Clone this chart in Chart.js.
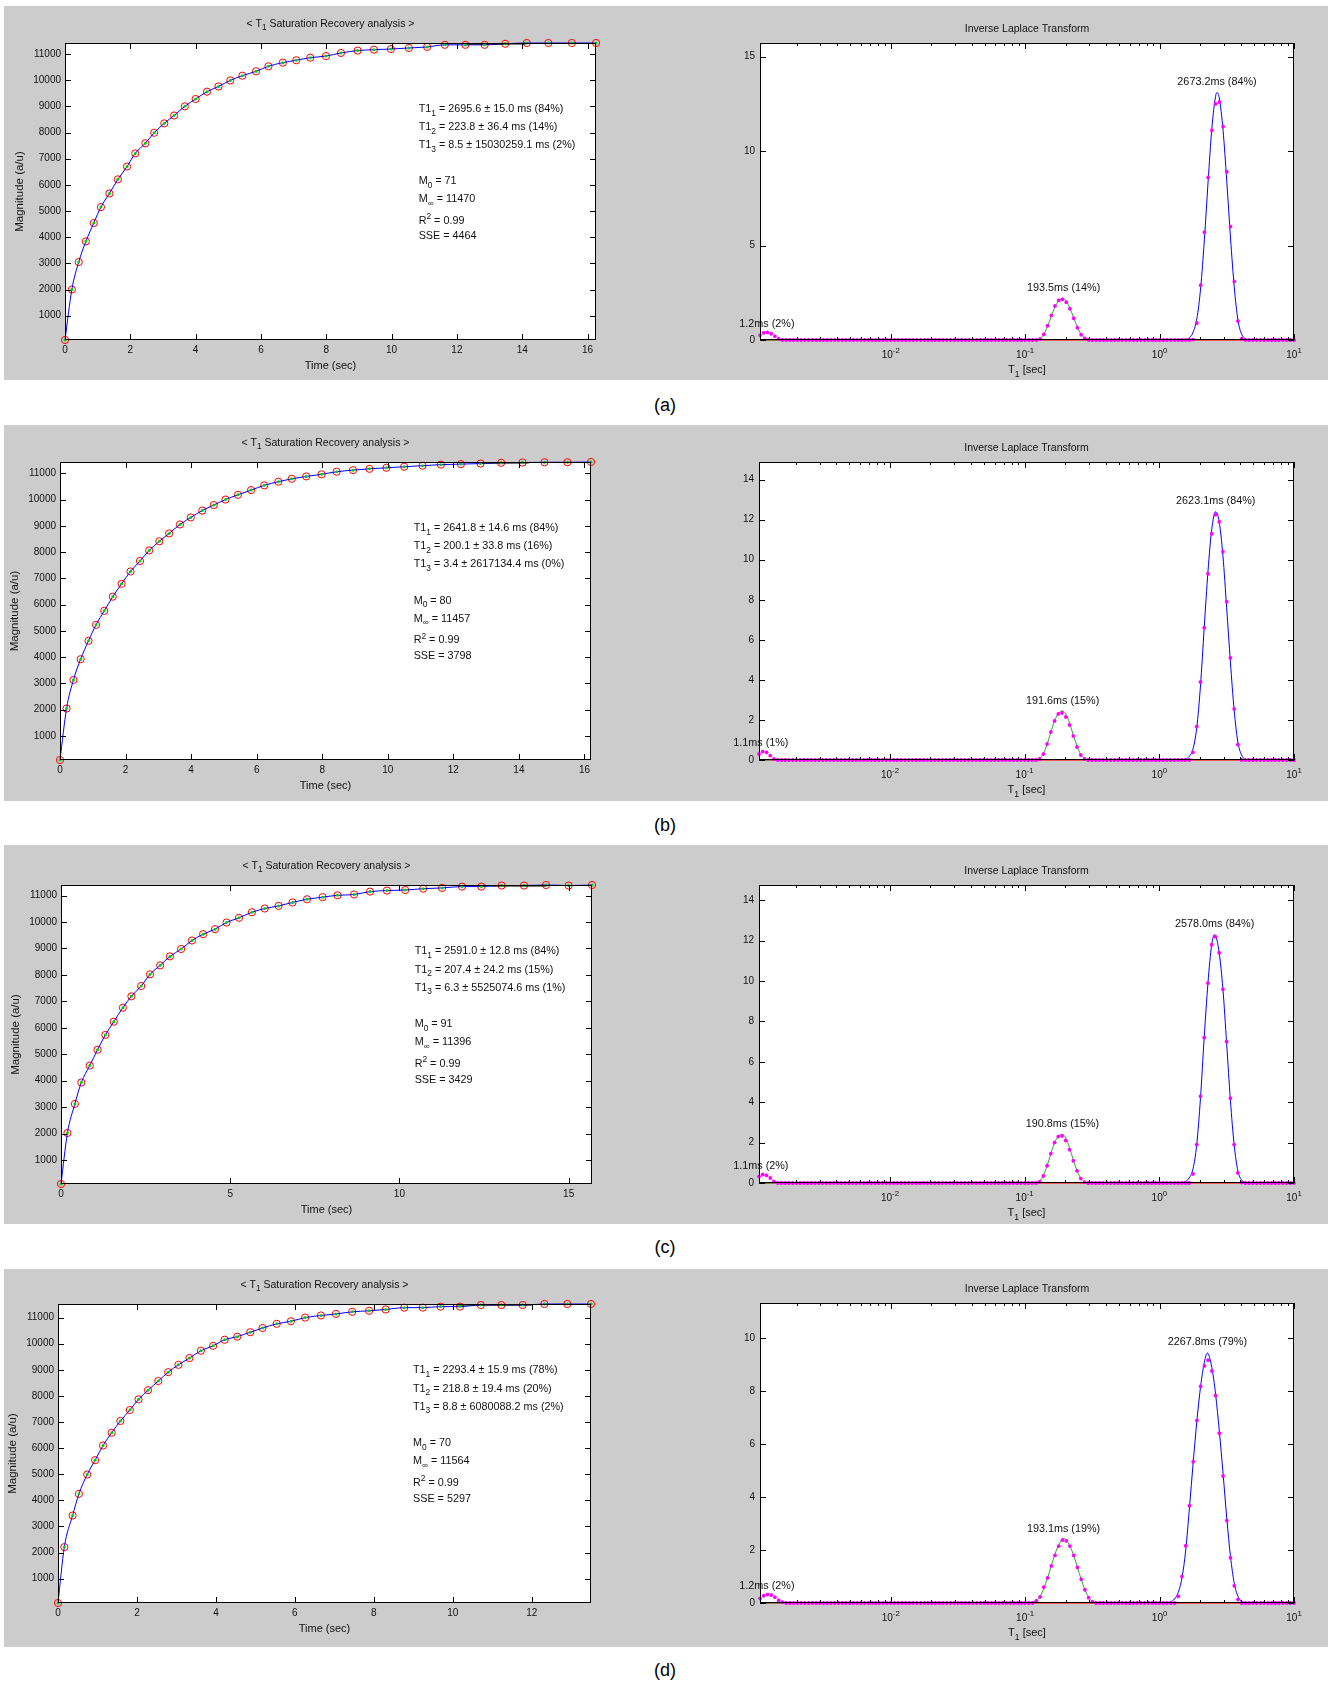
<!DOCTYPE html>
<html>
<head>
<meta charset="utf-8">
<script src="https://cdn.jsdelivr.net/npm/chart.js@4.4.1/dist/chart.umd.min.js"></script>
<style>
  body { margin: 0; width: 1330px; height: 1685px; position: relative; overflow: hidden; background: #fff;
         font-family: "Liberation Sans", Arial, Helvetica, sans-serif; }
  .panel { position: absolute; left: 4px; width: 1324px; background: #cccccc; }
  .tag { position: absolute; left: 0; width: 1330px; height: 22px; line-height: 22px; text-align: center; font-size: 18px; color: #000; }
  canvas { position: absolute; }
</style>
</head>
<body>
<script>
// ---------- saturation recovery data (left column) ----------
const timeA = [0, 0.21, 0.42, 0.64, 0.88, 1.10, 1.36, 1.62, 1.90, 2.15,
  2.46, 2.73, 3.04, 3.34, 3.67, 4.00, 4.35, 4.70, 5.06, 5.43,
  5.85, 6.23, 6.67, 7.08, 7.51, 7.99, 8.45, 8.96, 9.46, 9.98,
  10.53, 11.09, 11.63, 12.26, 12.85, 13.48, 14.14, 14.80, 15.52, 16.26];
const magA = [71, 2000, 3050, 3840, 4540, 5150, 5670, 6210, 6700, 7200,
  7590, 7990, 8350, 8650, 9000, 9280, 9560, 9760, 9990, 10170,
  10340, 10530, 10670, 10760, 10860, 10920, 11040, 11130, 11165, 11190,
  11230, 11270, 11350, 11350, 11350, 11390, 11420, 11420, 11420, 11420];
const timeB = [0, 0.20, 0.41, 0.63, 0.87, 1.10, 1.35, 1.61, 1.88, 2.15,
  2.44, 2.72, 3.03, 3.33, 3.66, 3.99, 4.34, 4.69, 5.05, 5.43,
  5.83, 6.23, 6.66, 7.07, 7.51, 7.98, 8.44, 8.94, 9.44, 9.96,
  10.50, 11.06, 11.62, 12.23, 12.83, 13.46, 14.11, 14.78, 15.48, 16.20];
const magB = [80, 2040, 3130, 3920, 4620, 5230, 5760, 6300, 6790, 7260,
  7660, 8060, 8410, 8710, 9050, 9320, 9580, 9790, 10000, 10180,
  10360, 10540, 10680, 10790, 10880, 10960, 11060, 11120, 11170, 11210,
  11250, 11290, 11330, 11350, 11370, 11400, 11410, 11420, 11420, 11430];
const timeC = [0, 0.19, 0.41, 0.60, 0.85, 1.08, 1.31, 1.56, 1.83, 2.08,
  2.37, 2.63, 2.93, 3.22, 3.55, 3.87, 4.20, 4.55, 4.89, 5.26,
  5.64, 6.02, 6.43, 6.84, 7.27, 7.73, 8.17, 8.66, 9.13, 9.63,
  10.17, 10.70, 11.26, 11.85, 12.42, 13.02, 13.68, 14.33, 15.00, 15.69];
const magC = [91, 2020, 3120, 3930, 4570, 5170, 5730, 6230, 6760, 7190,
  7580, 8020, 8360, 8700, 8980, 9300, 9540, 9730, 9980, 10160,
  10370, 10510, 10610, 10740, 10860, 10940, 11010, 11040, 11150, 11190,
  11210, 11260, 11290, 11340, 11340, 11380, 11380, 11400, 11380, 11400];
const timeD = [0, 0.16, 0.37, 0.53, 0.74, 0.94, 1.14, 1.36, 1.58, 1.82,
  2.04, 2.28, 2.54, 2.79, 3.05, 3.33, 3.62, 3.93, 4.22, 4.54,
  4.87, 5.18, 5.54, 5.90, 6.26, 6.66, 7.04, 7.45, 7.88, 8.30,
  8.77, 9.24, 9.69, 10.18, 10.71, 11.23, 11.77, 12.32, 12.90, 13.50];
const magD = [70, 2210, 3420, 4250, 4990, 5540, 6100, 6590, 7040, 7460,
  7870, 8220, 8570, 8910, 9190, 9450, 9730, 9920, 10150, 10270,
  10440, 10600, 10760, 10860, 11000, 11080, 11140, 11220, 11260, 11310,
  11380, 11380, 11420, 11420, 11480, 11480, 11480, 11520, 11520, 11520];

// dark segment along the top of each recovery plot
const topSegX = [[12.3, 14.1], [12.8, 14.3], [12.7, 14.35], [10.1, 12.0]];
const topSegY = [[11390, 11390], [11400, 11400], [11375, 11375], [11495, 11495]];

const timeTicksA = [0, 2, 4, 6, 8, 10, 12, 14, 16];
const timeTicksC = [0, 5, 10, 15];
const timeTicksD = [0, 2, 4, 6, 8, 10, 12];
const magTicks = [1000, 2000, 3000, 4000, 5000, 6000, 7000, 8000, 9000, 10000, 11000];

const t1Fits = [
  ['2695.6 ± 15.0 ms (84%)', '223.8 ± 36.4 ms (14%)', '8.5 ± 15030259.1 ms (2%)'],
  ['2641.8 ± 14.6 ms (84%)', '200.1 ± 33.8 ms (16%)', '3.4 ± 2617134.4 ms (0%)'],
  ['2591.0 ± 12.8 ms (84%)', '207.4 ± 24.2 ms (15%)', '6.3 ± 5525074.6 ms (1%)'],
  ['2293.4 ± 15.9 ms (78%)', '218.8 ± 19.4 ms (20%)', '8.8 ± 6080088.2 ms (2%)']
];
const m0Vals = [71, 80, 91, 70];
const mInfVals = [11470, 11457, 11396, 11564];
const r2Vals = ['0.99', '0.99', '0.99', '0.99'];
const sseVals = [4464, 3798, 3429, 5297];

// ---------- inverse Laplace transform data (right column) ----------
const t1Grid = [
  1.066e-3,1.136e-3,1.212e-3,1.292e-3,1.377e-3,1.468e-3,1.565e-3,1.668e-3,1.778e-3,1.896e-3,2.021e-3,2.154e-3,
  2.297e-3,2.448e-3,2.610e-3,2.783e-3,2.966e-3,3.162e-3,3.371e-3,3.594e-3,3.831e-3,4.084e-3,4.354e-3,4.642e-3,
  4.948e-3,5.275e-3,5.623e-3,5.995e-3,6.391e-3,6.813e-3,7.263e-3,7.743e-3,8.254e-3,8.799e-3,9.380e-3,
  1.000e-2,1.066e-2,1.136e-2,1.212e-2,1.292e-2,1.377e-2,1.468e-2,1.565e-2,1.668e-2,1.778e-2,1.896e-2,2.021e-2,
  2.154e-2,2.297e-2,2.448e-2,2.610e-2,2.783e-2,2.966e-2,3.162e-2,3.371e-2,3.594e-2,3.831e-2,4.084e-2,4.354e-2,
  4.642e-2,4.948e-2,5.275e-2,5.623e-2,5.995e-2,6.391e-2,6.813e-2,7.263e-2,7.743e-2,8.254e-2,8.799e-2,9.380e-2,
  0.1000,0.1066,0.1136,0.1212,0.1292,0.1377,0.1468,0.1565,0.1668,0.1778,0.1896,0.2021,
  0.2154,0.2297,0.2448,0.2610,0.2783,0.2966,0.3162,0.3371,0.3594,0.3831,0.4084,0.4354,
  0.4642,0.4948,0.5275,0.5623,0.5995,0.6391,0.6813,0.7263,0.7743,0.8254,0.8799,0.9380,
  1.000,1.066,1.136,1.212,1.292,1.377,1.468,1.565,1.668,1.778,1.896,2.021,
  2.154,2.297,2.448,2.610,2.783,2.966,3.162,3.371,3.594,3.831,4.084,4.354,
  4.642,4.948,5.275,5.623,5.995,6.391,6.813,7.263,7.743,8.254,8.799,9.380,
  10.00
];
const iltA = [
  0.25,0.38,0.40,0.33,0.20,0.06, 0,0,0,0,0,0, 0,0,0,0,0,0, 0,0,0,0,0,0, 0,0,0,0,0,0, 0,0,0,0,0,
  0,0,0,0,0,0, 0,0,0,0,0,0, 0,0,0,0,0,0, 0,0,0,0,0,0, 0,0,0,0,0,0, 0,0,0,0,0,0,
  0,0,0,0,0.05,0.30, 0.75,1.30,1.80,2.10,2.15,2.00, 1.65,1.15,0.65,0.28,0.08,0, 0,0,0,0,0,0, 0,0,0,0,0,0, 0,0,0,0,0,0,
  0,0,0,0,0,0, 0,0,0,0.02,0.90,2.90, 5.70,8.60,11.1,12.5,12.6,11.3, 8.90,6.00,3.10,1.00,0.05,0, 0,0,0,0,0,0, 0,0,0,0,0,0,
  0
];
const iltB = [
  0.30,0.42,0.38,0.22,0.05,0, 0,0,0,0,0,0, 0,0,0,0,0,0, 0,0,0,0,0,0, 0,0,0,0,0,0, 0,0,0,0,0,
  0,0,0,0,0,0, 0,0,0,0,0,0, 0,0,0,0,0,0, 0,0,0,0,0,0, 0,0,0,0,0,0, 0,0,0,0,0,0,
  0,0,0,0,0.05,0.30, 0.80,1.40,1.95,2.30,2.35,2.15, 1.75,1.20,0.65,0.25,0.05,0, 0,0,0,0,0,0, 0,0,0,0,0,0, 0,0,0,0,0,0,
  0,0,0,0,0,0, 0,0,0,0.38,1.67,3.90, 6.60,9.30,11.3,12.25,11.9,10.4, 7.90,5.10,2.55,0.77,0,0, 0,0,0,0,0,0, 0,0,0,0,0,0,
  0
];
const iltC = [
  0.32,0.42,0.38,0.25,0.08,0, 0,0,0,0,0,0, 0,0,0,0,0,0, 0,0,0,0,0,0, 0,0,0,0,0,0, 0,0,0,0,0,
  0,0,0,0,0,0, 0,0,0,0,0,0, 0,0,0,0,0,0, 0,0,0,0,0,0, 0,0,0,0,0,0, 0,0,0,0,0,0,
  0,0,0,0,0.06,0.35, 0.85,1.45,2.00,2.30,2.33,2.10, 1.65,1.10,0.60,0.22,0.04,0, 0,0,0,0,0,0, 0,0,0,0,0,0, 0,0,0,0,0,0,
  0,0,0,0,0,0, 0,0,0,0.45,1.90,4.30, 7.20,9.90,11.8,12.2,11.4,9.60, 7.00,4.20,1.90,0.50,0.02,0, 0,0,0,0,0,0, 0,0,0,0,0,0,
  0
];
const iltD = [
  0.17,0.27,0.32,0.30,0.22,0.10, 0.03,0,0,0,0,0, 0,0,0,0,0,0, 0,0,0,0,0,0, 0,0,0,0,0,0, 0,0,0,0,0,
  0,0,0,0,0,0, 0,0,0,0,0,0, 0,0,0,0,0,0, 0,0,0,0,0,0, 0,0,0,0,0,0, 0,0,0,0,0,0,
  0,0,0,0.08,0.23,0.60, 0.95,1.40,1.80,2.15,2.38,2.35, 2.15,1.80,1.35,0.90,0.50,0.20, 0.05,0,0,0,0,0, 0,0,0,0,0,0, 0,0,0,0,0,0,
  0,0,0,0,0,0.25, 1.00,2.16,3.68,5.34,6.90,8.19, 8.96,9.18,8.77,7.84,6.42,4.80, 3.12,1.71,0.65,0.13,0,0, 0,0,0,0,0,0, 0,0,0,0,0,0,
  0
];

// fitted component curves
const greenXA = [1.066e-3, 1.8e-3, 0.01, 0.05, 0.1, 0.1212, 0.1292, 0.1377, 0.1468, 0.1565, 0.1668, 0.1778, 0.1935, 0.2021, 0.2154, 0.2297, 0.2448, 0.2610, 0.2783, 0.2967, 0.3162, 1.2];
const greenYA = [0, 0, null, 0, 0, 0.02, 0.08, 0.30, 0.72, 1.25, 1.75, 2.08, 2.20, 2.05, 1.68, 1.18, 0.68, 0.30, 0.10, 0.03, 0, 0];
const greenXB = [1.066e-3, 1.8e-3, 0.01, 0.05, 0.1, 0.1212, 0.1292, 0.1377, 0.1468, 0.1565, 0.1668, 0.1778, 0.1916, 0.2021, 0.2154, 0.2297, 0.2448, 0.2610, 0.2783, 0.2967, 0.3162, 1.2];
const greenYB = [0, 0, null, 0, 0, 0.02, 0.08, 0.32, 0.78, 1.38, 1.95, 2.32, 2.45, 2.30, 1.85, 1.25, 0.70, 0.28, 0.08, 0.02, 0, 0];
const greenXC = [1.066e-3, 1.8e-3, 0.01, 0.05, 0.1, 0.1212, 0.1292, 0.1377, 0.1468, 0.1565, 0.1668, 0.1778, 0.1908, 0.2021, 0.2154, 0.2297, 0.2448, 0.2610, 0.2783, 0.2967, 0.3162, 1.2];
const greenYC = [0, 0, null, 0, 0, 0.03, 0.10, 0.36, 0.85, 1.45, 2.00, 2.32, 2.40, 2.22, 1.75, 1.15, 0.62, 0.24, 0.06, 0.01, 0, 0];
const greenXD = [1.066e-3, 1.8e-3, 0.01, 0.035, 0.09, 0.11, 0.1212, 0.1292, 0.1377, 0.1468, 0.1565, 0.1668, 0.1778, 0.1931, 0.2021, 0.2154, 0.2297, 0.2448, 0.2610, 0.2783, 0.2967, 0.3162, 0.34, 1.1];
const greenYD = [0, 0, null, 0, 0, 0.03, 0.10, 0.25, 0.55, 0.95, 1.40, 1.85, 2.20, 2.45, 2.38, 2.15, 1.80, 1.35, 0.90, 0.50, 0.22, 0.07, 0.01, 0];

const blueXA = [1.2, 1.5, 1.668, 1.778, 1.896, 2.021, 2.154, 2.297, 2.448, 2.610, 2.673, 2.783, 2.967, 3.162, 3.371, 3.594, 3.831, 4.084, 4.354, 4.8, 5.2];
const blueYA = [0, 0, 0.12, 0.42, 1.15, 2.75, 5.30, 8.40, 11.2, 12.9, 13.1, 12.8, 11.1, 8.40, 5.40, 2.80, 1.05, 0.30, 0.07, 0, 0];
const blueXB = [1.2, 1.4, 1.565, 1.668, 1.778, 1.896, 2.021, 2.154, 2.297, 2.448, 2.623, 2.783, 2.967, 3.162, 3.371, 3.594, 3.831, 4.084, 4.5, 5.2];
const blueYB = [0, 0, 0.05, 0.18, 0.55, 1.60, 3.70, 6.60, 9.40, 11.5, 12.4, 11.9, 10.2, 7.60, 4.90, 2.50, 0.90, 0.25, 0, 0];
const blueXC = [1.2, 1.4, 1.565, 1.668, 1.778, 1.896, 2.021, 2.154, 2.297, 2.448, 2.578, 2.783, 2.967, 3.162, 3.371, 3.594, 3.831, 4.084, 4.5, 5.2];
const blueYC = [0, 0, 0.08, 0.25, 0.70, 1.90, 4.20, 7.20, 9.90, 11.8, 12.3, 11.4, 9.60, 6.90, 4.10, 1.90, 0.60, 0.15, 0, 0];
const blueXD = [1.0, 1.1, 1.212, 1.292, 1.377, 1.468, 1.565, 1.668, 1.778, 1.896, 2.021, 2.154, 2.268, 2.448, 2.610, 2.783, 2.967, 3.162, 3.371, 3.594, 3.831, 4.2, 4.8, 5.2];
const blueYD = [0, 0, 0.05, 0.15, 0.40, 0.95, 2.00, 3.60, 5.30, 6.90, 8.20, 9.10, 9.45, 8.90, 7.90, 6.50, 4.90, 3.20, 1.75, 0.75, 0.25, 0.03, 0, 0];

const zeroLineX = [1.066e-3, 10];
const zeroLineY = [0, 0];

// peak annotations: position (T1 in s, height) and text
const peakXA = [2.6732, 0.1935, 0.0012], peakYA = [13.1, 2.2, 0.30];
const peakTextA = ['2673.2ms (84%)', '193.5ms (14%)', '1.2ms (2%)'];
const peakXB = [2.6231, 0.1916, 0.0011], peakYB = [12.4, 2.42, 0.33];
const peakTextB = ['2623.1ms (84%)', '191.6ms (15%)', '1.1ms (1%)'];
const peakXC = [2.578, 0.1908, 0.0011], peakYC = [12.3, 2.4, 0.33];
const peakTextC = ['2578.0ms (84%)', '190.8ms (15%)', '1.1ms (2%)'];
const peakXD = [2.2678, 0.1931, 0.0012], peakYD = [9.45, 2.4, 0.23];
const peakTextD = ['2267.8ms (79%)', '193.1ms (19%)', '1.2ms (2%)'];

const iltYMax = [15.72, 14.88, 14.76, 11.34];
const iltTicksA = [0, 5, 10, 15];
const iltTicksB = [0, 2, 4, 6, 8, 10, 12, 14];
const iltTicksD = [0, 2, 4, 6, 8, 10];
const logTicks = [0.01, 0.1, 1, 10];
const logTickExp = ['-2', '-1', '0', '1'];
const panelTags = ['(a)', '(b)', '(c)', '(d)'];

// ---------- page layout (page pixel coordinates) ----------
const layout = [
  { panel: [6, 380], tagY: 405, left: [65, 596, 43, 340], right: [760, 1294, 43, 340] },
  { panel: [425, 801], tagY: 825, left: [60, 591, 462, 760], right: [759, 1294, 462, 760] },
  { panel: [845, 1224], tagY: 1247, left: [61, 592, 885, 1184], right: [759, 1294, 885, 1183] },
  { panel: [1269, 1647], tagY: 1670, left: [58, 591, 1304, 1603], right: [760, 1294, 1303, 1603] }
];

const FONT = '"Liberation Sans", Arial, Helvetica, sans-serif';
Chart.defaults.font.family = FONT;
const NOTE_SIZE = 10.8;

function toPts(xs, ys) { return xs.map((x, i) => ({ x: x, y: ys[i] })); }

// text made of [string, 0 normal | 1 subscript | 2 superscript] parts
function richText(ctx, parts, x, y, size, align) {
  let total = 0;
  const widths = parts.map(p => {
    ctx.font = (p[1] ? size * 0.78 : size) + 'px ' + FONT;
    const w = ctx.measureText(p[0]).width;
    total += w;
    return w;
  });
  let cx = align === 'center' ? x - total / 2 : (align === 'right' ? x - total : x);
  ctx.textAlign = 'left';
  ctx.textBaseline = 'middle';
  parts.forEach((p, i) => {
    ctx.font = (p[1] ? size * 0.78 : size) + 'px ' + FONT;
    const dy = p[1] === 1 ? size * 0.4 : (p[1] === 2 ? -size * 0.4 : 0);
    ctx.fillText(p[0], cx, y + dy);
    cx += widths[i];
  });
}

const decor = {};

// MATLAB-like box axes: white area, frame, inward ticks, labels and texts
const matlabAxes = {
  id: 'matlabAxes',
  beforeDraw(chart) {
    const a = chart.chartArea, ctx = chart.ctx;
    ctx.save();
    ctx.fillStyle = '#ffffff';
    ctx.fillRect(a.left, a.top, a.right - a.left, a.bottom - a.top);
    ctx.restore();
  },
  afterDraw(chart) {
    const d = decor[chart.canvas.id];
    if (!d) return;
    const ctx = chart.ctx, a = chart.chartArea;
    const xs = chart.scales.x, ys = chart.scales.y;
    const w = a.right - a.left, h = a.bottom - a.top, cx = (a.left + a.right) / 2;
    ctx.save();
    ctx.strokeStyle = '#000';
    ctx.fillStyle = '#111';
    ctx.lineWidth = 1;
    ctx.beginPath();
    const tickX = (v, len) => {
      const p = Math.round(xs.getPixelForValue(v)) + 0.5;
      ctx.moveTo(p, a.bottom); ctx.lineTo(p, a.bottom - len);
      ctx.moveTo(p, a.top); ctx.lineTo(p, a.top + len);
    };
    const tickY = (v, len) => {
      const p = Math.round(ys.getPixelForValue(v)) + 0.5;
      ctx.moveTo(a.left, p); ctx.lineTo(a.left + len, p);
      ctx.moveTo(a.right, p); ctx.lineTo(a.right - len, p);
    };
    d.xTicks.forEach(v => tickX(v, 6));
    if (d.log) {
      for (let e = -3; e <= 0; e++) {
        for (let m = 2; m <= 9; m++) {
          const v = m * Math.pow(10, e);
          if (v > xs.min && v < xs.max) tickX(v, 3);
        }
      }
    }
    d.yTicks.forEach(v => tickY(v, 6));
    ctx.stroke();
    ctx.strokeRect(a.left + 0.5, a.top + 0.5, w - 1, h - 1);

    // tick labels
    ctx.font = '10px ' + FONT;
    ctx.textBaseline = 'middle';
    if (d.log) {
      d.xTicks.forEach((v, i) => richText(ctx, [['10', 0], [d.xExp[i], 2]], xs.getPixelForValue(v), a.bottom + 15, 10, 'center'));
    } else {
      ctx.textAlign = 'center';
      d.xTicks.forEach(v => ctx.fillText(String(v), xs.getPixelForValue(v), a.bottom + 10));
    }
    ctx.font = '10px ' + FONT;
    ctx.textAlign = 'right';
    ctx.textBaseline = 'middle';
    d.yTicks.forEach(v => ctx.fillText(String(v), a.left - (d.log ? 5 : 4), ys.getPixelForValue(v)));

    // title and axis labels
    richText(ctx, d.title, cx, a.top - d.titleGap, 10.5, 'center');
    richText(ctx, d.xLabel, cx, a.bottom + d.xLabelGap, 11, 'center');
    if (d.yLabel) {
      ctx.save();
      ctx.translate(a.left - 45, (a.top + a.bottom) / 2);
      ctx.rotate(-Math.PI / 2);
      richText(ctx, [[d.yLabel, 0]], 0, 0, 11.5, 'center');
      ctx.restore();
    }

    // fit results text block (axes-normalised placement)
    if (d.notes) {
      d.notes.forEach(n => richText(ctx, n.parts, a.left + 0.666 * w, a.top + n.fy * h, NOTE_SIZE, 'left'));
    }
    // peak labels
    if (d.peaks) {
      d.peaks.text.forEach((t, i) => {
        richText(ctx, [[t, 0]], xs.getPixelForValue(d.peaks.x[i]), ys.getPixelForValue(d.peaks.y[i]) - 10.5, NOTE_SIZE, 'center');
      });
    }
    ctx.restore();
  }
};
Chart.register(matlabAxes);

function addCanvas(id, x, y, w, h) {
  const c = document.createElement('canvas');
  c.id = id;
  c.width = w; c.height = h;
  c.style.left = x + 'px'; c.style.top = y + 'px';
  c.style.width = w + 'px'; c.style.height = h + 'px';
  document.body.appendChild(c);
  return c;
}

function padFor(box, x, y, w, h) {
  return { left: box[0] - x, right: x + w - box[1], top: box[2] - y, bottom: y + h - box[3] };
}

function baseOptions(padding, xScale, yScale) {
  return {
    responsive: false,
    animation: false,
    devicePixelRatio: 1,
    events: [],
    layout: { padding: padding },
    plugins: { legend: { display: false }, tooltip: { enabled: false } },
    scales: { x: xScale, y: yScale }
  };
}

const recovery = [
  { t: timeA, m: magA, ticks: timeTicksA },
  { t: timeB, m: magB, ticks: timeTicksA },
  { t: timeC, m: magC, ticks: timeTicksC },
  { t: timeD, m: magD, ticks: timeTicksD }
];
const ilt = [
  { y: iltA, gx: greenXA, gy: greenYA, bx: blueXA, by: blueYA, px: peakXA, py: peakYA, pt: peakTextA, ticks: iltTicksA },
  { y: iltB, gx: greenXB, gy: greenYB, bx: blueXB, by: blueYB, px: peakXB, py: peakYB, pt: peakTextB, ticks: iltTicksB },
  { y: iltC, gx: greenXC, gy: greenYC, bx: blueXC, by: blueYC, px: peakXC, py: peakYC, pt: peakTextC, ticks: iltTicksB },
  { y: iltD, gx: greenXD, gy: greenYD, bx: blueXD, by: blueYD, px: peakXD, py: peakYD, pt: peakTextD, ticks: iltTicksD }
];
const noteRows = [0.222, 0.283, 0.344, 0.465, 0.526, 0.599, 0.651];

layout.forEach((L, r) => {
  const top = L.panel[0], ph = L.panel[1] - L.panel[0];
  const panel = document.createElement('div');
  panel.className = 'panel';
  panel.style.top = top + 'px';
  panel.style.height = ph + 'px';
  document.body.appendChild(panel);

  const tag = document.createElement('div');
  tag.className = 'tag';
  tag.style.top = (L.tagY - 11) + 'px';
  tag.textContent = panelTags[r];
  document.body.appendChild(tag);

  // ---- left: saturation recovery ----
  const rec = recovery[r];
  const lc = addCanvas('rec' + r, 4, top, 661, ph);
  const recPts = toPts(rec.t, rec.m);
  const fits = t1Fits[r];
  decor[lc.id] = {
    log: false,
    xTicks: rec.ticks,
    yTicks: magTicks,
    title: [['< T', 0], ['1', 1], [' Saturation Recovery analysis >', 0]],
    titleGap: 19,
    xLabel: [['Time (sec)', 0]],
    xLabelGap: 26,
    yLabel: 'Magnitude (a/u)',
    notes: [
      { parts: [['T1', 0], ['1', 1], [' = ' + fits[0], 0]], fy: noteRows[0] },
      { parts: [['T1', 0], ['2', 1], [' = ' + fits[1], 0]], fy: noteRows[1] },
      { parts: [['T1', 0], ['3', 1], [' = ' + fits[2], 0]], fy: noteRows[2] },
      { parts: [['M', 0], ['0', 1], [' = ' + m0Vals[r], 0]], fy: noteRows[3] },
      { parts: [['M', 0], ['\u221e', 1], [' = ' + mInfVals[r], 0]], fy: noteRows[4] },
      { parts: [['R', 0], ['2', 2], [' = ' + r2Vals[r], 0]], fy: noteRows[5] },
      { parts: [['SSE = ' + sseVals[r], 0]], fy: noteRows[6] }
    ]
  };
  new Chart(lc, {
    type: 'scatter',
    data: {
      datasets: [
        { data: recPts, showLine: true, borderColor: '#0000ff', borderWidth: 1, pointRadius: 0,
          cubicInterpolationMode: 'monotone', clip: false, order: 3 },
        { data: toPts(topSegX[r], topSegY[r]), showLine: true, borderColor: '#000000', borderWidth: 1.5,
          pointRadius: 0, clip: false, order: 2 },
        { data: recPts, pointStyle: 'circle', pointRadius: 3.6, borderColor: '#ff0000', borderWidth: 1,
          backgroundColor: 'rgba(0,0,0,0)', clip: false, order: 4 },
        { data: recPts, pointStyle: 'circle', pointRadius: 1.5, borderWidth: 0, backgroundColor: '#00d000',
          clip: false, order: 1 }
      ]
    },
    options: baseOptions(padFor(L.left, 4, top, 661, ph),
      { type: 'linear', display: false, min: 0, max: rec.t[rec.t.length - 1] },
      { type: 'linear', display: false, min: Math.min(...rec.m), max: Math.max(...rec.m) })
  });

  // ---- right: inverse Laplace transform ----
  const d = ilt[r];
  const rc = addCanvas('ilt' + r, 665, top, 663, ph);
  decor[rc.id] = {
    log: true,
    xTicks: logTicks,
    xExp: logTickExp,
    yTicks: d.ticks,
    title: [['Inverse Laplace Transform', 0]],
    titleGap: 13.5,
    xLabel: [['T', 0], ['1', 1], [' [sec]', 0]],
    xLabelGap: 30,
    peaks: { x: d.px, y: d.py, text: d.pt }
  };
  new Chart(rc, {
    type: 'scatter',
    data: {
      datasets: [
        { data: toPts(t1Grid, d.y), pointStyle: 'star', pointRadius: 1.9, borderWidth: 1.1,
          borderColor: '#ff00ff', backgroundColor: '#ff00ff', clip: false, order: 1 },
        { data: toPts(d.bx, d.by), showLine: true, borderColor: '#0000ff', borderWidth: 1, pointRadius: 0,
          cubicInterpolationMode: 'monotone', clip: false, order: 2 },
        { data: toPts(d.gx, d.gy), showLine: true, borderColor: '#3a9a3a', borderWidth: 1, pointRadius: 0,
          cubicInterpolationMode: 'monotone', spanGaps: false, clip: false, order: 3 },
        { data: toPts(zeroLineX, zeroLineY), showLine: true, borderColor: '#ff3333', borderWidth: 1.6,
          pointRadius: 0, clip: false, order: 4 }
      ]
    },
    options: baseOptions(padFor(L.right, 665, top, 663, ph),
      { type: 'logarithmic', display: false, min: t1Grid[0], max: t1Grid[t1Grid.length - 1] },
      { type: 'linear', display: false, min: 0, max: iltYMax[r] })
  });
});
</script>
</body>
</html>
